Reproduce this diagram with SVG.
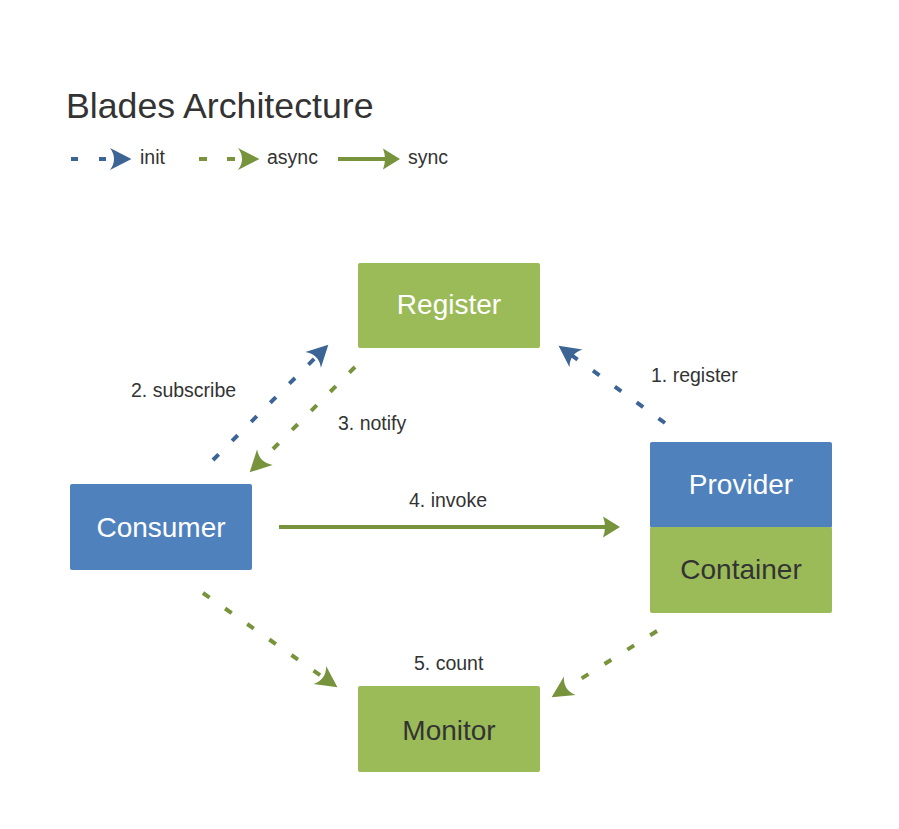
<svg xmlns="http://www.w3.org/2000/svg" width="899" height="829" viewBox="0 0 899 829">
<style>
  text { font-family: "Liberation Sans", Arial, Helvetica, sans-serif; }
  .title { font-size: 35.7px; fill: #333333; }
  .lbl { font-size: 19.5px; fill: #333333; }
  .node { font-size: 28px; text-anchor: middle; }
  .w { fill: #ffffff; }
  .d { fill: #333333; }
  .blue { fill: #4F81BD; }
  .green { fill: #9BBB59; }
  .init { stroke: #3C6595; stroke-width: 4; fill: none; stroke-dasharray: 8 19; marker-end: url(#hb); }
  .async { stroke: #77933C; stroke-width: 4; fill: none; stroke-dasharray: 8 19; marker-end: url(#hg); }
  .sync { stroke: #77933C; stroke-width: 4; fill: none; marker-end: url(#hs); }
</style>
<defs>
  <marker id="hb" markerUnits="userSpaceOnUse" orient="auto" refX="0" refY="0" markerWidth="40" markerHeight="40" viewBox="-20 -20 40 40" overflow="visible">
    <path d="M12.5,0 L-9,-11 Q-1,0 -9,11 Z" fill="#3C6595"/>
  </marker>
  <marker id="hg" markerUnits="userSpaceOnUse" orient="auto" refX="0" refY="0" markerWidth="40" markerHeight="40" viewBox="-20 -20 40 40" overflow="visible">
    <path d="M12.5,0 L-9,-11 Q-1,0 -9,11 Z" fill="#77933C"/>
  </marker>
  <marker id="hs" markerUnits="userSpaceOnUse" orient="auto" refX="0" refY="0" markerWidth="40" markerHeight="40" viewBox="-20 -20 40 40" overflow="visible">
    <path d="M12,0 L-5,-10.5 Q-1,0 -5,10.5 Z" fill="#77933C"/>
  </marker>
</defs>
<rect width="899" height="829" fill="#ffffff"/>

<g id="title">
  <text class="title" x="66" y="118">Blades Architecture</text>
</g>

<g id="legend">
  <line class="init" x1="71" y1="159" x2="119" y2="159" style="stroke-dasharray:7 21"/>
  <text class="lbl" x="140" y="164">init</text>
  <line class="async" x1="199" y1="159" x2="247" y2="159" style="stroke-dasharray:8 20"/>
  <text class="lbl" x="267" y="164">async</text>
  <line class="sync" x1="338" y1="159" x2="388" y2="159"/>
  <text class="lbl" x="408" y="164">sync</text>
</g>

<g id="register">
  <rect class="green" x="358" y="263" width="182" height="85" rx="2"/>
  <text class="node w" x="449" y="314">Register</text>
</g>

<g id="consumer">
  <rect class="blue" x="70" y="484" width="182" height="86" rx="2"/>
  <text class="node w" x="161" y="537">Consumer</text>
</g>

<g id="provider">
  <rect class="blue" x="650" y="442" width="182" height="86" rx="2"/>
  <text class="node w" x="741" y="494">Provider</text>
</g>

<g id="container">
  <rect class="green" x="650" y="527" width="182" height="86" rx="2"/>
  <text class="node d" x="741" y="579">Container</text>
</g>

<g id="monitor">
  <rect class="green" x="358" y="686" width="182" height="86" rx="2"/>
  <text class="node d" x="449" y="740">Monitor</text>
</g>

<g id="connectors">
  <line id="c-subscribe" class="init" x1="213" y1="460" x2="319.5" y2="353.5"/>
  <line id="c-notify" class="async" x1="355" y1="367" x2="258.5" y2="463.5"/>
  <line id="c-register" class="init" x1="665" y1="423" x2="568.7" y2="353.1"/>
  <line id="c-invoke" class="sync" x1="279" y1="527" x2="608" y2="527"/>
  <line id="c-count1" class="async" x1="203" y1="593" x2="327.2" y2="680.1"/>
  <line id="c-count2" class="async" x1="657" y1="631" x2="562.2" y2="690.6"/>
</g>

<g id="labels">
  <text class="lbl" x="131" y="397">2. subscribe</text>
  <text class="lbl" x="338" y="430">3. notify</text>
  <text class="lbl" x="651" y="382">1. register</text>
  <text class="lbl" x="409" y="507">4. invoke</text>
  <text class="lbl" x="414" y="670">5. count</text>
</g>
</svg>
